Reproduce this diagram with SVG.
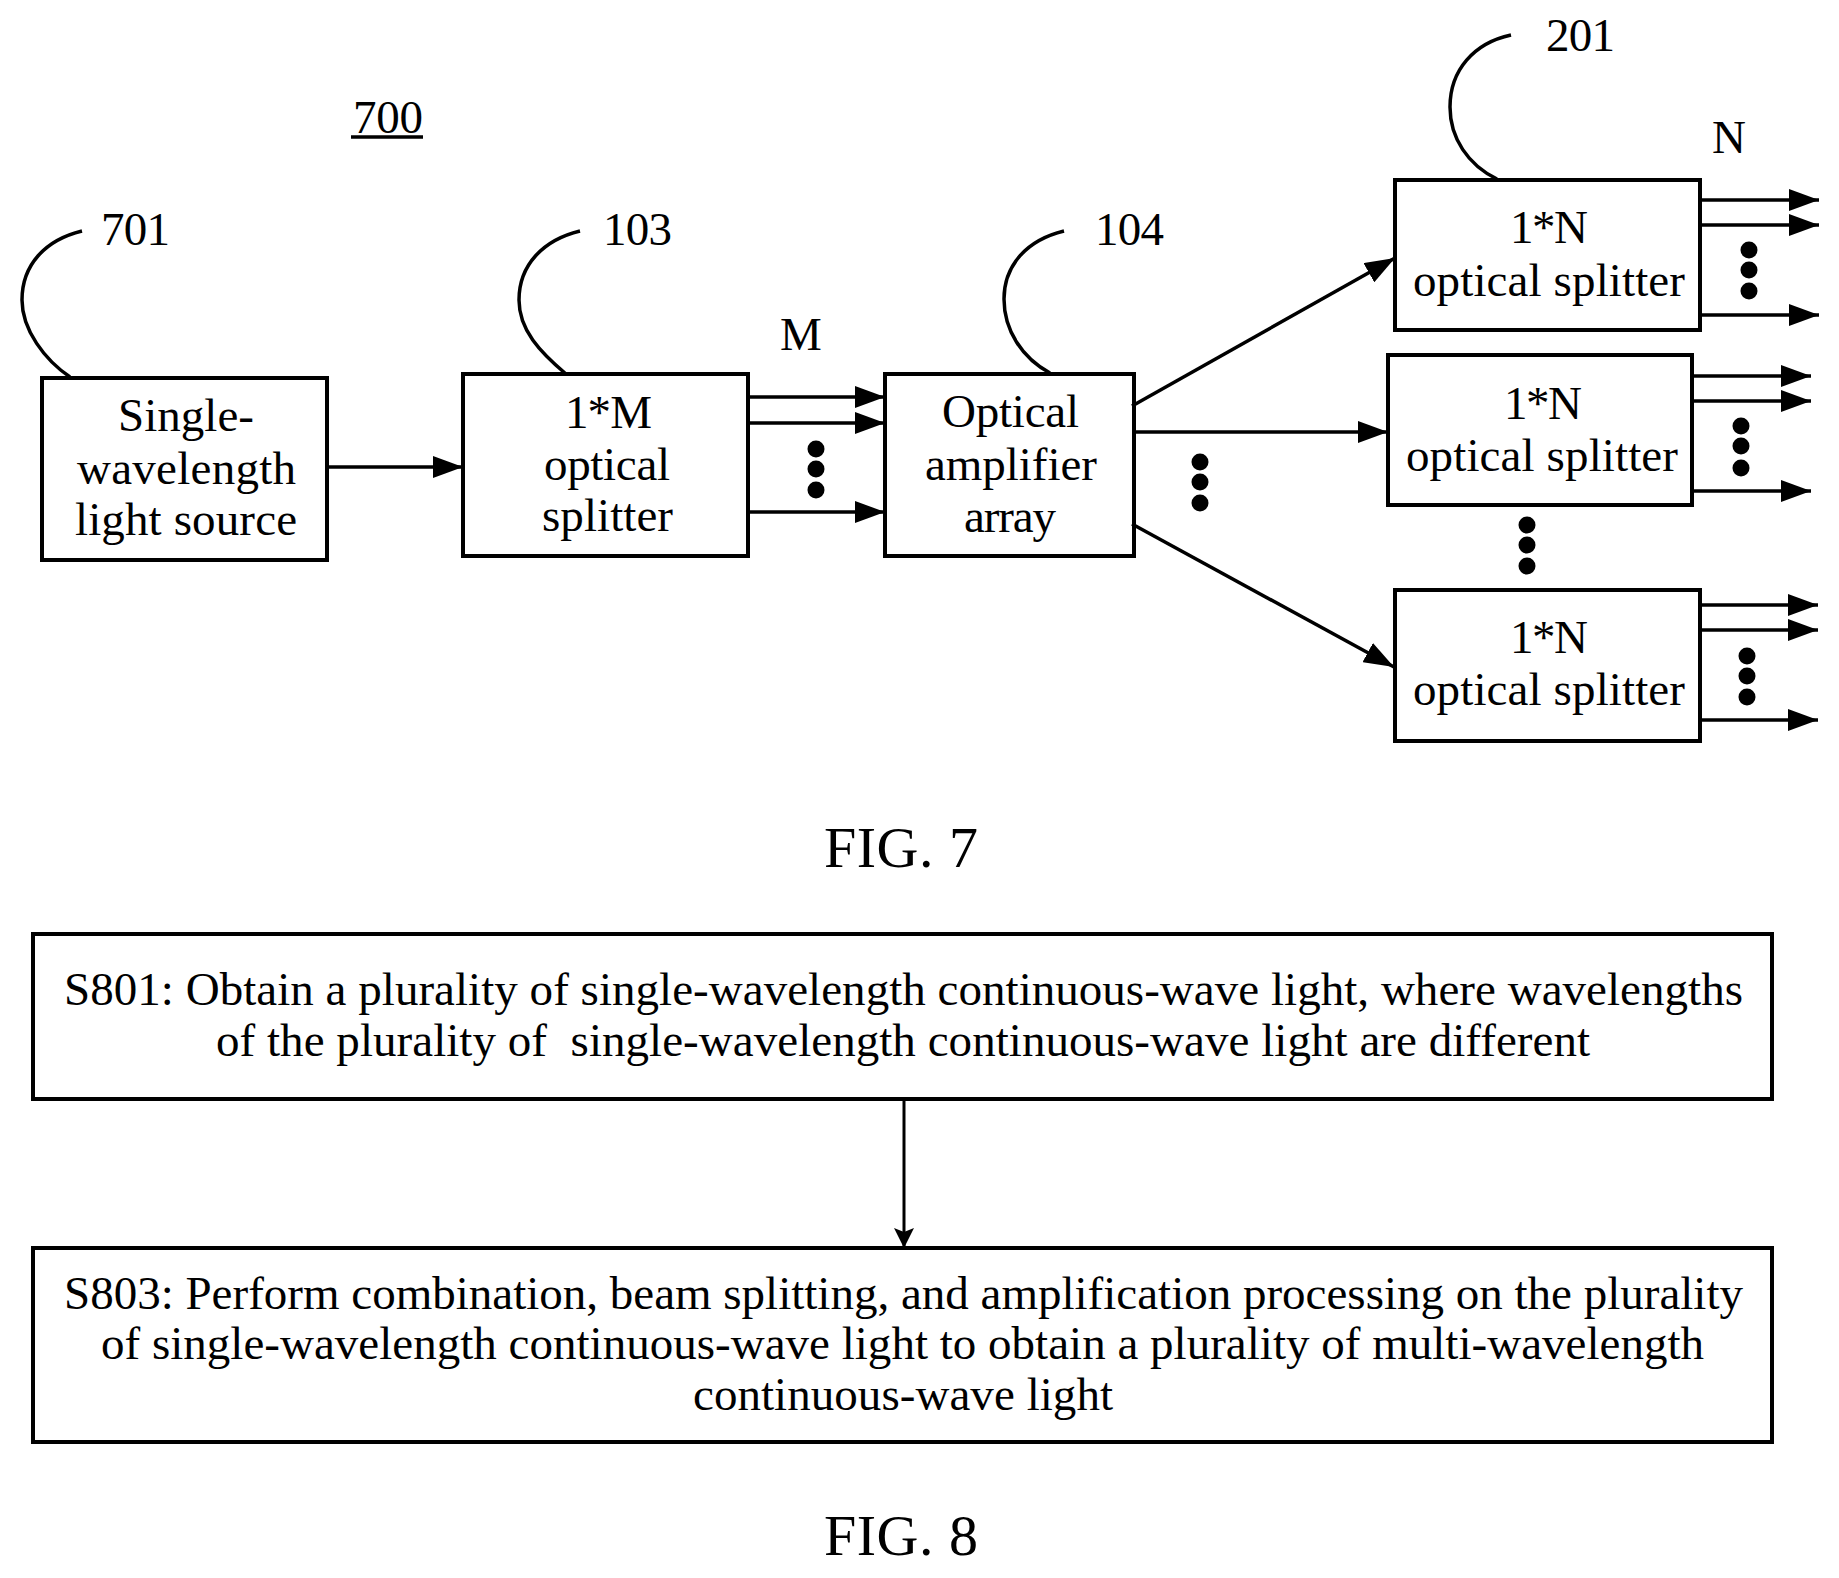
<svg xmlns="http://www.w3.org/2000/svg" width="1839" height="1578" viewBox="0 0 1839 1578">
<style>
text{font-family:"Liberation Serif","Times New Roman",serif;font-size:47px;fill:#000;white-space:pre}
.fig{font-size:58px}
.box{fill:#fff;stroke:#000;stroke-width:4}
.lead{fill:none;stroke:#000;stroke-width:3.5}
.a{fill:none;stroke:#000;stroke-width:3.5;marker-end:url(#h)}
.d{fill:none;stroke:#000;stroke-width:3;marker-end:url(#v)}
.u{stroke:#000;stroke-width:3.5}
circle{fill:#000}
</style>
<defs>
<marker id="h" markerUnits="userSpaceOnUse" markerWidth="30" markerHeight="22" refX="30" refY="11" orient="auto"><path d="M0 0L30 11L0 22Z" fill="#000"/></marker>
<marker id="v" markerUnits="userSpaceOnUse" markerWidth="20" markerHeight="22" refX="20" refY="10" orient="auto"><path d="M0 0L20 10L0 20L4 10Z" fill="#000"/></marker>
</defs>
<rect width="1839" height="1578" fill="#fff"/>
<g id="n701"><rect class="box" x="42" y="378" width="285" height="182"/>
<text x="118" y="431" textLength="136">Single-</text>
<text x="77" y="484" textLength="219">wavelength</text>
<text x="75" y="535" textLength="222">light source</text></g>
<g id="n103"><rect class="box" x="463" y="374" width="285" height="182"/>
<text x="565" y="428" textLength="87">1*M</text>
<text x="544" y="480" textLength="126">optical</text>
<text x="542" y="531" textLength="131">splitter</text></g>
<g id="n104"><rect class="box" x="885" y="374" width="249" height="182"/>
<text x="942" y="427" textLength="137">Optical</text>
<text x="925" y="480" textLength="172">amplifier</text>
<text x="964" y="532" textLength="92">array</text></g>
<g id="n201a"><rect class="box" x="1395" y="180" width="305" height="150"/>
<text x="1510" y="243" textLength="78">1*N</text>
<text x="1413" y="296" textLength="272">optical splitter</text></g>
<g id="n201b"><rect class="box" x="1388" y="355" width="304" height="150"/>
<text x="1504" y="419" textLength="78">1*N</text>
<text x="1406" y="471" textLength="272">optical splitter</text></g>
<g id="n201c"><rect class="box" x="1395" y="590" width="305" height="151"/>
<text x="1510" y="653" textLength="78">1*N</text>
<text x="1413" y="705" textLength="272">optical splitter</text></g>
<g id="s801"><rect class="box" x="33" y="934" width="1739" height="165"/>
<text x="64" y="1005" textLength="1679">S801: Obtain a plurality of single-wavelength continuous-wave light, where wavelengths</text>
<text x="216" y="1056" textLength="1374">of the plurality of  single-wavelength continuous-wave light are different</text></g>
<g id="s803"><rect class="box" x="33" y="1248" width="1739" height="194"/>
<text x="64" y="1309" textLength="1679">S803: Perform combination, beam splitting, and amplification processing on the plurality</text>
<text x="101" y="1359" textLength="1603">of single-wavelength continuous-wave light to obtain a plurality of multi-wavelength</text>
<text x="693" y="1410" textLength="420">continuous-wave light</text></g>
<g id="connectors">
<path class="lead" d="M82 231C45 240 22 265 22 300C22 330 45 360 70 377"/>
<path class="lead" d="M580 231C543 240 519 265 519 300C519 330 540 352 566 374"/>
<path class="lead" d="M1064 231C1027 240 1004 265 1004 299C1004 330 1022 358 1050 373"/>
<path class="lead" d="M1511 35C1474 43 1450 70 1450 107C1450 138 1468 165 1497 179"/>
<path class="a" d="M327 467H463"/>
<path class="a" d="M748 397H885"/>
<path class="a" d="M748 423H885"/>
<path class="a" d="M748 512H885"/>
<path class="a" d="M1132 406L1395 258"/>
<path class="a" d="M1132 432H1388"/>
<path class="a" d="M1132 524L1394 667"/>
<path class="a" d="M1700 200H1819"/>
<path class="a" d="M1700 225H1819"/>
<path class="a" d="M1700 315H1819"/>
<path class="a" d="M1692 376H1811"/>
<path class="a" d="M1692 401H1811"/>
<path class="a" d="M1692 491H1811"/>
<path class="a" d="M1700 605H1818"/>
<path class="a" d="M1700 630H1818"/>
<path class="a" d="M1700 720H1818"/>
<path class="d" d="M904 1099V1248"/>
</g>
<g id="dots">
<circle cx="816" cy="449" r="8.5"/><circle cx="816" cy="469" r="8.5"/><circle cx="816" cy="490" r="8.5"/>
<circle cx="1200" cy="462" r="8.5"/><circle cx="1200" cy="482" r="8.5"/><circle cx="1200" cy="503" r="8.5"/>
<circle cx="1527" cy="525" r="8.5"/><circle cx="1527" cy="545" r="8.5"/><circle cx="1527" cy="566" r="8.5"/>
<circle cx="1749" cy="250" r="8.5"/><circle cx="1749" cy="270" r="8.5"/><circle cx="1749" cy="291" r="8.5"/>
<circle cx="1741" cy="426" r="8.5"/><circle cx="1741" cy="446" r="8.5"/><circle cx="1741" cy="468" r="8.5"/>
<circle cx="1747" cy="656" r="8.5"/><circle cx="1747" cy="676" r="8.5"/><circle cx="1747" cy="697" r="8.5"/>
</g>
<g id="labels">
<text x="353" y="133" textLength="70">700</text>
<line class="u" x1="351" y1="137" x2="423" y2="137"/>
<text x="101" y="245" textLength="69">701</text>
<text x="603" y="245" textLength="69">103</text>
<text x="1095" y="245" textLength="69">104</text>
<text x="1546" y="51" textLength="69">201</text>
<text x="780" y="350">M</text>
<text x="1712" y="153">N</text>
<text class="fig" x="824" y="867" textLength="154">FIG. 7</text>
<text class="fig" x="824" y="1555" textLength="154">FIG. 8</text>
</g>
</svg>
